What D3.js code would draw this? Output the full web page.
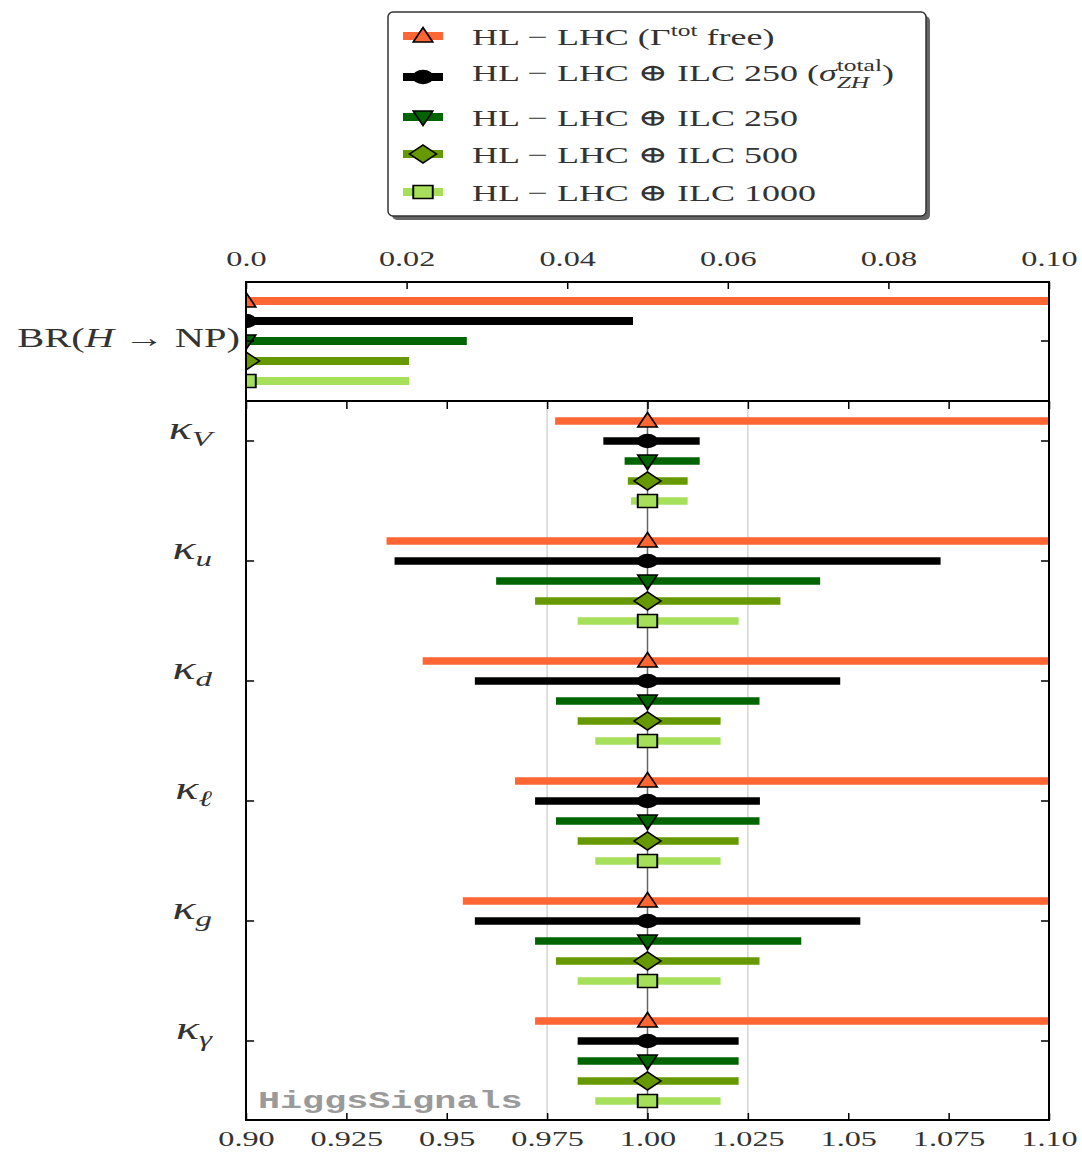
<!DOCTYPE html>
<html>
<head>
<meta charset="utf-8">
<script src="https://cdn.jsdelivr.net/npm/d3@7"></script>
<style>
  body { margin: 0; background: #fff; }
  svg { display: block; }
</style>
</head>
<body>
<script>
// ---- data -------------------------------------------------------------
const seriesColors  = ["#ff6633", "#000000", "#006400", "#669900", "#a6e05a"];
const seriesMarkers = ["triangle-up", "circle", "triangle-down", "diamond", "square"];

// coupling modifiers (subscripts of kappa), top to bottom
const couplings = ["V", "u", "d", "\u2113", "g", "\u03b3"];
const kappaCentral = 1.0;

// lower / upper ends of each interval, per series, per coupling
const lowHLLHC   = [0.977, 0.935, 0.944, 0.967, 0.954, 0.972];
const highHLLHC  = [1.10, 1.10, 1.10, 1.10, 1.10, 1.10];
const lowILC250s = [0.989, 0.937, 0.957, 0.972, 0.957, 0.9826];
const highILC250s= [1.013, 1.073, 1.048, 1.028, 1.053, 1.0227];
const lowILC250  = [0.9943, 0.9623, 0.9772, 0.9772, 0.972, 0.9826];
const highILC250 = [1.013, 1.043, 1.0279, 1.0279, 1.0383, 1.0227];
const lowILC500  = [0.9951, 0.972, 0.9826, 0.9826, 0.9772, 0.9826];
const highILC500 = [1.010, 1.0331, 1.0182, 1.0227, 1.0279, 1.0227];
const lowILC1000 = [0.9959, 0.9826, 0.987, 0.987, 0.9826, 0.987];
const highILC1000= [1.010, 1.0227, 1.0182, 1.0182, 1.0182, 1.0182];

// BR(H -> NP): central value and upper limit per series
const brCentral = [0, 0, 0, 0, 0];
const brUpper   = [0.10, 0.0482, 0.0275, 0.0203, 0.0203];

const topTickValues    = [0, 0.02, 0.04, 0.06, 0.08, 0.10];
const topTickLabels    = ["0.0", "0.02", "0.04", "0.06", "0.08", "0.10"];
const bottomTickValues = [0.90, 0.925, 0.95, 0.975, 1.00, 1.025, 1.05, 1.075, 1.10];
const bottomTickLabels = ["0.90", "0.925", "0.95", "0.975", "1.00", "1.025", "1.05", "1.075", "1.10"];
const gridValues = [0.975, 1.025];

const lows  = [lowHLLHC, lowILC250s, lowILC250, lowILC500, lowILC1000];
const highs = [highHLLHC, highILC250s, highILC250, highILC500, highILC1000];

// ---- layout -----------------------------------------------------------
const W = 1082, H = 1157;
const SX = 1.5;                         // horizontal stretch of glyphs / markers
const L = 246, R = 1049, T1 = 282, B1 = 401, B2 = 1120;
const serif = "'Liberation Serif', 'DejaVu Serif', serif";
const textColor = "#333";

const xTop = d3.scaleLinear().domain([0, 0.1]).range([L, R]);
const xBot = d3.scaleLinear().domain([0.9, 1.1]).range([L, R]);
const yTopRow = d3.scaleLinear().domain([0, 4]).range([301, 381]);
const yCat = d3.scaleLinear().domain([0, couplings.length - 1]).range([441, 1041]);
const rowOff = d3.scaleLinear().domain([1, 2]).range([0, 20]);

const svg = d3.select("body").append("svg").attr("width", W).attr("height", H);
const defs = svg.append("defs");
defs.append("clipPath").attr("id", "clipTop").append("rect")
  .attr("x", L).attr("y", T1).attr("width", R - L).attr("height", B1 - T1);
defs.append("clipPath").attr("id", "clipBot").append("rect")
  .attr("x", L).attr("y", B1).attr("width", R - L).attr("height", B2 - B1);

function markerPath(kind) {
  switch (kind) {
    case "triangle-up":   return "M0,-8.5L6.5,6L-6.5,6Z";
    case "triangle-down": return "M0,8.5L6.5,-6L-6.5,-6Z";
    case "diamond":       return "M0,-9L9,0L0,9L-9,0Z";
    case "square":        return "M-6.5,-6.5h13v13h-13Z";
    default:              return d3.symbol(d3.symbolCircle, Math.PI * 6.5 * 6.5)();
  }
}
function drawMarker(g, x, y, j) {
  g.append("path")
    .attr("transform", `translate(${x},${y}) scale(${SX},1)`)
    .attr("d", markerPath(seriesMarkers[j]))
    .attr("fill", seriesColors[j])
    .attr("stroke", "#000").attr("stroke-width", 1.3);
}
function stretchedText(parent, x, y, anchor, size, family) {
  return parent.append("g").attr("transform", `translate(${x},${y}) scale(${SX},1)`)
    .append("text").attr("text-anchor", anchor).attr("font-size", size)
    .attr("font-family", family || serif).attr("fill", textColor);
}

// ---- bottom panel: kappa intervals -----------------------------------
const gBot = svg.append("g");
gBot.selectAll("line.grid").data(gridValues).enter().append("line")
  .attr("x1", d => xBot(d)).attr("x2", d => xBot(d))
  .attr("y1", B1).attr("y2", B2).attr("stroke", "#d4d4d4").attr("stroke-width", 1.5);
gBot.append("line")
  .attr("x1", xBot(kappaCentral)).attr("x2", xBot(kappaCentral))
  .attr("y1", B1).attr("y2", B2).attr("stroke", "#666").attr("stroke-width", 1.5);

const botClip = gBot.append("g").attr("clip-path", "url(#clipBot)");
lows.forEach((lo, j) => {
  botClip.selectAll(null).data(couplings).enter().append("line")
    .attr("x1", (d, i) => xBot(lo[i])).attr("x2", (d, i) => xBot(highs[j][i]))
    .attr("y1", (d, i) => yCat(i) + rowOff(j)).attr("y2", (d, i) => yCat(i) + rowOff(j))
    .attr("stroke", seriesColors[j]).attr("stroke-width", 7.5);
});
lows.forEach((lo, j) => {
  couplings.forEach((c, i) => drawMarker(botClip, xBot(kappaCentral), yCat(i) + rowOff(j), j));
});

// ---- top panel: BR(H -> NP) -------------------------------------------
const topClip = svg.append("g").attr("clip-path", "url(#clipTop)");
topClip.selectAll(null).data(brUpper).enter().append("line")
  .attr("x1", (d, j) => xTop(brCentral[j])).attr("x2", d => xTop(d))
  .attr("y1", (d, j) => yTopRow(j)).attr("y2", (d, j) => yTopRow(j))
  .attr("stroke", (d, j) => seriesColors[j]).attr("stroke-width", 8);
brCentral.forEach((v, j) => drawMarker(topClip, xTop(v), yTopRow(j), j));

// ---- axes ---------------------------------------------------------------
function styleAxis(g) {
  g.select(".domain").remove();
  g.selectAll(".tick line").attr("stroke", "#000").attr("stroke-width", 1.5);
  g.selectAll(".tick text").attr("font-family", serif).attr("font-size", 21.5)
    .attr("fill", textColor).attr("transform", `scale(${SX},1)`);
}
// top axis with labels
svg.append("g").attr("transform", `translate(0,${T1})`)
  .call(d3.axisTop(xTop).tickValues(topTickValues).tickSizeInner(-7).tickSizeOuter(0)
        .tickPadding(16).tickFormat((d, i) => topTickLabels[i]))
  .call(styleAxis);
// bottom axis with labels
svg.append("g").attr("transform", `translate(0,${B2})`)
  .call(d3.axisBottom(xBot).tickValues(bottomTickValues).tickSizeInner(-7).tickSizeOuter(0)
        .tickPadding(11).tickFormat((d, i) => bottomTickLabels[i]))
  .call(styleAxis);
// inward ticks along the panel separator (bottom panel top edge)
svg.append("g").attr("transform", `translate(0,${B1})`)
  .call(d3.axisBottom(xBot).tickValues(bottomTickValues).tickSizeInner(8).tickSizeOuter(0).tickFormat(""))
  .call(styleAxis);
// left / right inward ticks
const yTickTop = [yTopRow(2)];
const yTickBot = couplings.map((c, i) => yCat(i));
[L, R].forEach(xPos => {
  const dir = xPos === L ? 1 : -1;
  svg.append("g").selectAll("line").data(yTickTop.concat(yTickBot)).enter().append("line")
    .attr("x1", xPos).attr("x2", xPos + dir * 8).attr("y1", d => d).attr("y2", d => d)
    .attr("stroke", "#000").attr("stroke-width", 1.5);
});

// frame
const frame = svg.append("g").attr("fill", "none").attr("stroke", "#000").attr("stroke-width", 2);
frame.append("rect").attr("x", L).attr("y", T1).attr("width", R - L).attr("height", B2 - T1);
frame.append("line").attr("x1", L).attr("x2", R).attr("y1", B1).attr("y2", B1);

// y labels
const br = stretchedText(svg, 240, 347, "end", 27);
br.append("tspan").text("BR(");
br.append("tspan").attr("font-style", "italic").text("H");
br.append("tspan").text(" \u2192 NP)");

couplings.forEach((c, i) => {
  const t = stretchedText(svg, 212, yCat(i) - 2, "end", 32);
  t.append("tspan").attr("font-style", "italic").text("\u03ba");
  t.append("tspan").attr("font-style", "italic").attr("font-size", 22).attr("dy", 7).text(c);
});

// watermark
stretchedText(svg, 258, 1108, "start", 24.5, "'Liberation Mono', 'DejaVu Sans Mono', monospace")
  .attr("font-weight", "bold").attr("fill", "#9a9a9a").text("HiggsSignals");

// ---- legend -------------------------------------------------------------
const lg = svg.append("g");
lg.append("rect").attr("x", 392).attr("y", 16).attr("width", 538).attr("height", 204)
  .attr("rx", 5).attr("fill", "#666");
lg.append("rect").attr("x", 388).attr("y", 12).attr("width", 538).attr("height", 204)
  .attr("rx", 5).attr("fill", "#fff").attr("stroke", "#333").attr("stroke-width", 1.5);

const legendMarkerY = [36, 77, 117, 154, 192];
const legendTextY   = [45, 81, 126, 163, 201];
legendMarkerY.forEach((y, j) => {
  lg.append("line").attr("x1", 403).attr("x2", 443).attr("y1", y).attr("y2", y)
    .attr("stroke", seriesColors[j]).attr("stroke-width", 8);
  drawMarker(lg, 423, y, j);
});
const prefix = "HL \u2212 LHC";
{
  const t = stretchedText(lg, 472, legendTextY[0], "start", 24);
  t.append("tspan").text(prefix + " (\u0393");
  t.append("tspan").attr("font-size", 17).attr("dy", -9).text("tot");
  t.append("tspan").attr("dy", 9).text(" free)");
}
{
  const t = stretchedText(lg, 472, legendTextY[1], "start", 24);
  t.append("tspan").text(prefix + " \u2295 ILC 250 (");
  t.append("tspan").attr("font-style", "italic").text("\u03c3");
  const sup = t.append("tspan").attr("font-size", 17).attr("dy", -10).text("total");
  const supLen = sup.node().getComputedTextLength();
  const sub = t.append("tspan").attr("font-size", 17).attr("font-style", "italic")
    .attr("dy", 17).attr("dx", -supLen).text("ZH");
  const subLen = sub.node().getComputedTextLength();
  t.append("tspan").attr("dy", -7).attr("dx", supLen - subLen).text(")");
}
["250", "500", "1000"].forEach((e, k) => {
  stretchedText(lg, 472, legendTextY[k + 2], "start", 24).text(prefix + " \u2295 ILC " + e);
});
</script>
</body>
</html>
